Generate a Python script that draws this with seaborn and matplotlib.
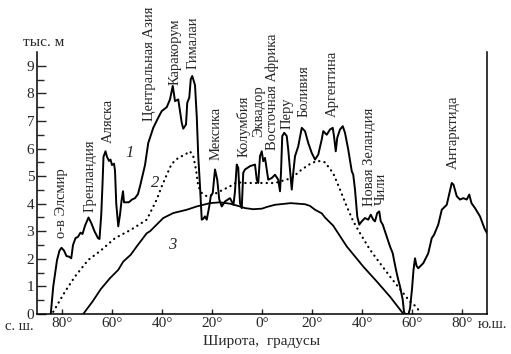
import numpy as np
import matplotlib
matplotlib.use("Agg")
import matplotlib.pyplot as plt
import pandas as pd
import seaborn as sns

# latitude: north negative, south positive (degrees); heights in km
lat_max = [-84.5, -83.5, -82.0, -81.0, -80.2, -79.2, -78.2, -77.2, -76.3, -75.6,
           -74.6, -73.6, -72.6, -71.8, -70.8, -69.4, -68.3, -67.0, -65.6, -65.0,
           -64.3, -63.8, -63.4, -62.6, -62.0, -61.2, -60.6, -60.0, -59.2, -58.8,
           -58.3, -57.5, -56.8, -56.2, -55.6, -55.2, -54.5, -53.3, -52.0, -50.8,
           -49.6, -48.8, -46.8, -45.5, -43.5, -41.5, -40.1, -38.1, -36.8, -35.7,
           -34.8, -33.5, -32.1, -31.5, -30.4, -29.9, -29.1, -28.5, -27.9, -26.8,
           -26.1, -25.5, -24.8, -24.1, -23.5, -22.8, -22.1, -21.1, -20.5, -19.7,
           -18.8, -17.9, -17.1, -16.1, -14.8, -12.8, -11.4, -10.8, -10.1, -9.5,
           -8.8, -8.1, -7.5, -6.8, -4.8, -2.8, -2.1, -1.5, -0.8, -0.1,
           0.5, 1.2, 1.9, 2.5, 3.9, 5.2, 6.5, 7.2, 7.6, 8.1,
           8.9, 9.9, 10.5, 11.2, 11.9, 12.5, 13.2, 14.5, 15.9, 17.2,
           18.5, 19.9, 21.2, 22.5, 23.9, 24.5, 25.9, 27.2, 28.3, 28.8,
           29.5, 30.1, 31.2, 32.3, 33.2, 34.5, 35.9, 36.5, 37.2, 38.1,
           38.9, 39.9, 41.2, 42.5, 43.5, 44.5, 45.2, 46.1, 46.9, 47.5,
           48.3, 49.9, 51.2, 52.3, 52.8, 53.6, 54.5, 55.2, 56.3, 56.8,
           57.2, 58.6, 59.2, 60.0, 60.6, 61.2, 61.8, 62.5, 64.5, 66.5,
           67.9, 68.8, 70.5, 71.9, 73.2, 73.9, 75.0, 75.9, 76.6, 77.9,
           79.2, 80.5, 81.9, 82.9, 83.8, 85.2, 87.2, 89.0, 90.0]
h_max = [0.0, 1.0, 1.95, 2.3, 2.4, 2.3, 2.1, 2.08, 2.02, 2.5,
         2.75, 2.8, 2.95, 2.9, 3.2, 3.5, 3.3, 3.0, 2.75, 2.72,
         3.6, 4.7, 5.7, 5.9, 5.7, 5.55, 5.6, 5.4, 5.45, 5.2,
         4.0, 3.18, 3.6, 4.1, 4.45, 4.05, 4.05, 4.05, 4.15, 4.2,
         4.35, 4.63, 5.4, 6.2, 6.75, 7.12, 7.36, 7.5, 7.78, 8.27,
         7.72, 7.78, 6.93, 6.72, 6.87, 7.66, 7.84, 8.51, 8.63, 8.3,
         7.17, 5.72, 4.63, 3.42, 3.45, 3.54, 3.42, 3.9, 4.27, 4.39,
         5.24, 4.87, 4.15, 3.9, 4.08, 4.2, 3.96, 4.45, 5.42, 5.3,
         4.02, 3.84, 5.12, 5.24, 5.36, 5.42, 4.87, 4.75, 5.72, 5.9,
         5.54, 5.66, 5.24, 4.87, 4.93, 5.05, 4.87, 4.45, 5.12, 6.45,
         6.57, 6.45, 5.96, 5.24, 4.51, 5.12, 5.72, 6.08, 6.75, 6.63,
         6.2, 5.84, 5.6, 5.78, 6.33, 6.63, 6.5, 6.69, 6.75, 6.45,
         5.9, 6.39, 6.69, 6.81, 6.57, 5.96, 5.18, 5.05, 4.51, 3.54,
         3.24, 3.36, 3.48, 3.42, 3.6, 3.42, 3.36, 3.66, 3.72, 3.36,
         3.24, 2.81, 2.45, 2.2, 1.96, 1.6, 1.24, 1.0, 0.51, 0.08,
         0.0, 0.0, 0.2, 0.9, 1.6, 2.02, 1.75, 1.66, 1.84, 2.2,
         2.75, 2.87, 3.24, 3.78, 3.9, 3.96, 4.4, 4.75, 4.69, 4.27,
         4.15, 4.2, 4.15, 4.33, 4.02, 3.84, 3.54, 3.1, 2.93]

lat_mean = [-83.5, -81.5, -78.8, -74.8, -69.5, -64.5, -58.8, -52.5, -46.1, -42.1,
            -40.1, -38.1, -36.1, -33.5, -30.8, -28.8, -27.5, -26.4, -25.5, -24.1,
            -22.1, -19.5, -16.8, -12.8, -10.0, -6.8, 0.0, 5.2, 11.9, 15.9,
            19.9, 22.5, 25.2, 28.5, 31.2, 33.9, 36.5, 39.2, 43.2, 47.2,
            51.2, 55.2, 59.2, 61.2, 63.5]
h_mean = [0.08, 0.39, 0.81, 1.36, 1.96, 2.3, 2.75, 3.05, 3.42, 4.15,
          4.63, 5.05, 5.45, 5.66, 5.78, 5.9, 5.72, 5.24, 4.63, 4.39,
          4.27, 4.33, 4.45, 4.63, 4.78, 4.75, 4.75, 4.75, 4.93, 5.24,
          5.48, 5.55, 5.5, 5.1, 4.51, 3.9, 3.36, 2.93, 2.33, 1.84,
          1.36, 0.9, 0.45, 0.3, 0.05]

lat_land = [-71.5, -67.8, -64.5, -60.8, -57.5, -55.5, -52.5, -50.1, -46.1, -44.8,
            -39.5, -35.5, -32.8, -30.1, -26.1, -20.8, -16.8, -12.8, -8.8, -6.8,
            -3.5, 0.0, 1.9, 5.2, 11.5, 17.2, 19.2, 21.2, 23.9, 25.2,
            28.5, 33.9, 40.5, 45.9, 51.2, 55.9, 56.5]
h_land = [0.0, 0.45, 0.9, 1.3, 1.6, 1.9, 2.15, 2.45, 2.93, 3.0,
          3.48, 3.66, 3.72, 3.78, 3.9, 4.02, 4.05, 4.0, 3.9, 3.84,
          3.8, 3.82, 3.88, 3.96, 4.02, 3.98, 3.92, 3.78, 3.65, 3.5,
          3.2, 2.45, 1.72, 1.18, 0.63, 0.08, 0.0]

place_names = ['о-в Элсмир', 'Гренландия', 'Аляска', 'Центральная Азия', 'Каракорум',
               'Гималаи', 'Мексика', 'Колумбия', 'Эквадор', 'Восточная Африка',
               'Перу', 'Боливия', 'Аргентина', 'Новая Зеландия', 'Чили', 'Антарктида']
place_lat = [-80.0, -68.8, -61.5, -44.8, -34.8, -27.6, -18.4, -7.4, -1.4, 4.0,
             10.0, 16.8, 28.0, 43.2, 47.9, 76.4]
place_h = [2.75, 3.7, 6.2, 6.98, 8.3, 8.87, 5.6, 5.7, 6.4, 5.96,
           6.7, 7.13, 7.16, 3.9, 3.96, 5.24]

xticks = [-80, -60, -40, -20, 0, 20, 40, 60, 80]
xtick_labels = ['80°', '60°', '40°', '20°', '0°', '20°', '40°', '60°', '80°']

sns.set_style("ticks")
plt.rcParams['font.family'] = ['Liberation Serif', 'DejaVu Serif']

fig = plt.figure(figsize=(5.11, 3.54), dpi=100)
ax = fig.add_axes([37 / 511, 1 - 314 / 354, 450 / 511, 262 / 354])

df_max = pd.DataFrame({'lat': lat_max, 'h': h_max})
df_mean = pd.DataFrame({'lat': lat_mean, 'h': h_mean})
df_land = pd.DataFrame({'lat': lat_land, 'h': h_land})

sns.lineplot(data=df_max, x='lat', y='h', ax=ax, estimator=None, sort=False,
             color='black', linewidth=1.4)
sns.lineplot(data=df_mean, x='lat', y='h', ax=ax, estimator=None, sort=False,
             color='black', linewidth=1.6, linestyle=(0, (0.1, 2.3)),
             dash_capstyle='round')
sns.lineplot(data=df_land, x='lat', y='h', ax=ax, estimator=None, sort=False,
             color='black', linewidth=1.3)

for name, x, y in zip(place_names, place_lat, place_h):
    ax.text(x, y, name, rotation=90, ha='center', va='bottom', fontsize=10.5,
            clip_on=False)

ax.text(-52.8, 5.85, '1', style='italic', fontsize=12, ha='center', va='center')
ax.text(-42.8, 4.76, '2', style='italic', fontsize=12, ha='center', va='center')
ax.text(-36.0, 2.5, '3', style='italic', fontsize=12, ha='center', va='center')

ax.set_xlim(-90, 90)
ax.set_ylim(0, 9.5)
ax.set_xticks(xticks)
ax.set_xticklabels(xtick_labels)
ax.set_yticks(range(0, 10))
ax.set_yticks(np.arange(0.5, 9.5, 1.0), minor=True)
ax.tick_params(axis='y', which='major', direction='in', length=6.5, width=1,
               labelsize=11, pad=2)
ax.tick_params(axis='y', which='minor', direction='in', length=5, width=1)
ax.tick_params(axis='x', which='major', direction='in', length=3.5, width=1,
               labelsize=11, pad=2)
ax.set_xlabel('')
ax.set_ylabel('')

for side in ['left', 'bottom', 'right']:
    ax.spines[side].set_linewidth(1.1)
    ax.spines[side].set_color('black')
ax.spines['top'].set_visible(False)

fig.text(23 / 511, 1 - 43 / 354, 'тыс. м', ha='left', va='center', fontsize=11)
fig.text(5 / 511, 1 - 327 / 354, 'с. ш.', ha='left', va='center', fontsize=10.5)
fig.text(478 / 511, 1 - 325 / 354, 'ю.ш.', ha='left', va='center', fontsize=10.5)
fig.text(262 / 511, 1 - 342 / 354, 'Широта,  градусы', ha='center', va='center',
         fontsize=11)

fig.savefig('out.png', dpi=100)
